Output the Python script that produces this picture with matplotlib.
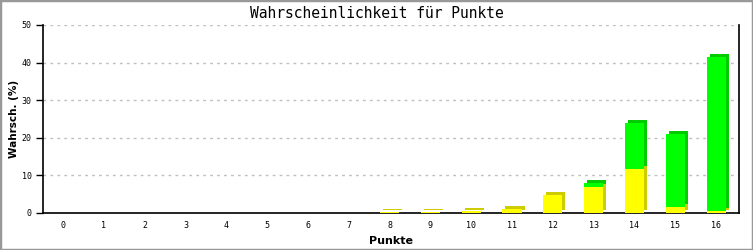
import matplotlib.pyplot as plt
from matplotlib.transforms import offset_copy
from matplotlib.patches import Rectangle

# Punkte 0..16, Wahrscheinlichkeit (%) in zwei Anteilen
punkte = list(range(17))
gelb = [0, 0, 0, 0, 0, 0, 0, 0, 0.15, 0.15, 0.45, 1.0, 4.7, 7.0, 11.7, 1.7, 0.6]
gruen = [0, 0, 0, 0, 0, 0, 0, 0, 0, 0, 0, 0, 0, 1.0, 12.2, 19.3, 41.0]

fig = plt.figure(figsize=(7.53, 2.5), dpi=100)
ax = fig.add_axes([43 / 753, 1 - 213 / 250, (739 - 43) / 753, 188 / 250])

# Rahmen um die Grafik
fig.patches.append(Rectangle((0, 0), 1, 1, transform=fig.transFigure,
                             fill=False, edgecolor='#999999', linewidth=2.5))

w = 0.47
tiefe = offset_copy(ax.transData, fig=fig, x=3, y=3, units='dots')
for t, gl, gr in [(tiefe, '#cccc00', '#00cc00'), (ax.transData, '#ffff00', '#00ff00')]:
    for x, g, r in zip(punkte, gelb, gruen):
        if g > 0:
            ax.bar(x, g, width=w, color=gl, linewidth=0, transform=t, zorder=3)
        if r > 0:
            ax.bar(x, r, bottom=g, width=w, color=gr, linewidth=0, transform=t, zorder=3)

ax.set_xlim(-0.49, 16.56)
ax.set_ylim(0, 50)
ax.set_yticks([0, 10, 20, 30, 40, 50])
ax.set_xticks(punkte)
ax.yaxis.grid(True, color='#c0c0c0', linestyle=(0, (2, 3)), linewidth=1)
ax.set_axisbelow(True)
ax.spines['top'].set_visible(False)
for s in ['left', 'bottom', 'right']:
    ax.spines[s].set_linewidth(1.2)
ax.tick_params(axis='x', length=0, pad=6, labelsize=6)
ax.tick_params(axis='y', length=5, width=1, labelsize=6, pad=3)
for lab in ax.get_xticklabels() + ax.get_yticklabels():
    lab.set_family('DejaVu Sans Mono')

fig.text(0.5, 0.948, 'Wahrscheinlichkeit für Punkte', ha='center', va='center',
         family='DejaVu Sans Mono', fontsize=10.5)
ax.set_xlabel('Punkte', fontsize=8, fontweight='bold', labelpad=4)
ax.set_ylabel('Wahrsch. (%)', fontsize=7.5, fontweight='bold', labelpad=2)

fig.savefig('out.png', dpi=100)
